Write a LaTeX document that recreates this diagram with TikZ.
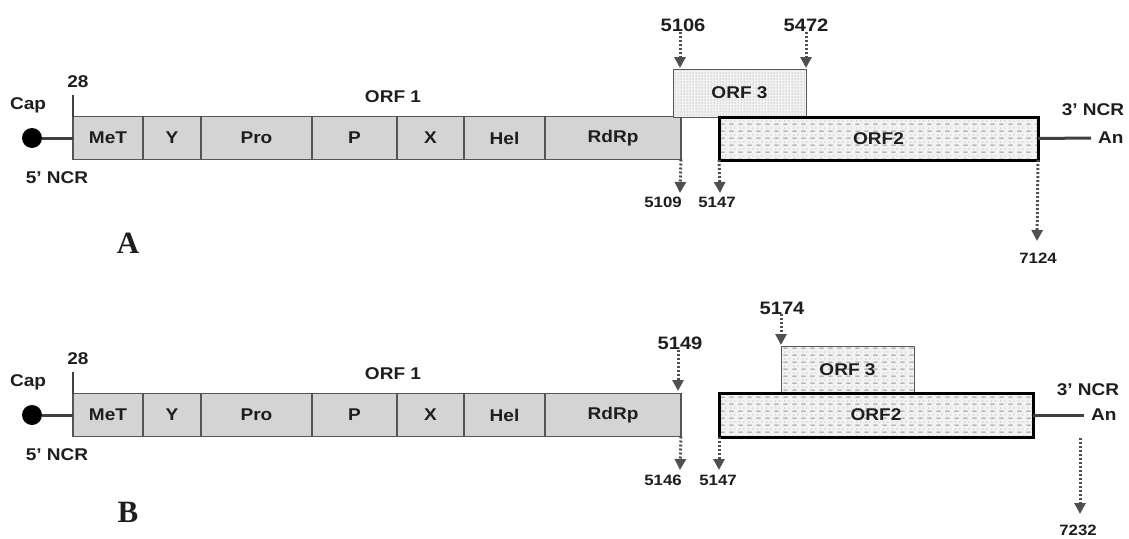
\documentclass[tikz,border=0pt]{standalone}
\usepackage{fontspec}
\setmainfont{Liberation Sans}[FakeStretch=1.12]
\newfontfamily\panelfont{Liberation Serif}
\usetikzlibrary{arrows.meta,patterns,patterns.meta}
\pgfdeclarepattern{
  name=dashrow,
  parameters={},
  bottom left={\pgfpoint{0pt}{0pt}},
  top right={\pgfpoint{9pt}{7pt}},
  tile size={\pgfpoint{9pt}{7pt}},
  code={
    \pgfsetlinewidth{1pt}
    \pgfpathmoveto{\pgfpoint{0.5pt}{1pt}}
    \pgfpathlineto{\pgfpoint{5pt}{1pt}}
    \pgfusepath{stroke}
    \pgfpathcircle{\pgfpoint{2pt}{4.5pt}}{0.6pt}
    \pgfpathcircle{\pgfpoint{6.5pt}{4.5pt}}{0.6pt}
    \pgfusepath{fill}
  }
}
\definecolor{segfill}{HTML}{D4D4D4}
\definecolor{segdraw}{HTML}{555555}
\definecolor{txt}{HTML}{1E1E1E}
\definecolor{arrc}{HTML}{505050}
\definecolor{linec}{HTML}{404040}
\definecolor{orfbg}{HTML}{F2F2F2}
\tikzset{
  lab/.style={font=\bfseries\fontsize{17}{17}\selectfont, text=txt, inner sep=0pt},
  bignum/.style={font=\bfseries\fontsize{18}{18}\selectfont, text=txt, inner sep=0pt},
  smallnum/.style={font=\bfseries\fontsize{15}{15}\selectfont, text=txt, inner sep=0pt},
  seg/.style={lab, draw=segdraw, line width=1.5pt, fill=segfill, minimum height=43pt, inner sep=0pt, outer sep=0pt, anchor=north west},
  orfthree/.style={lab, draw=gray!70!black, line width=1pt, preaction={fill=orfbg}, pattern=dots, pattern color=gray!90, inner sep=0pt, outer sep=0pt, anchor=north west},
  orfthreeb/.style={lab, draw=gray!70!black, line width=1pt, preaction={fill=orfbg}, pattern=dashrow, pattern color=gray!85, inner sep=0pt, outer sep=0pt, anchor=north west},
  orftwo/.style={lab, draw=black, line width=3pt, preaction={fill=orfbg}, pattern=dashrow, pattern color=gray!85, inner sep=0pt, outer sep=0pt, anchor=north west, minimum height=43pt},
  capdot/.style={circle, fill=black, minimum size=20pt, inner sep=0pt, outer sep=0pt},
  capline/.style={draw=linec, line width=3pt},
  tickline/.style={draw=linec, line width=1.8pt},
  arr/.style={draw=arrc, line width=3pt, dash pattern=on 2pt off 2pt, -{Triangle[width=11pt,length=11pt]}},
  panel/.style={font=\panelfont\bfseries\fontsize{31}{31}\selectfont, text=txt, inner sep=0pt}
}
\begin{document}
\begin{tikzpicture}[x=1pt,y=-1pt]
\useasboundingbox (0,0) rectangle (1129,538);
% common ORF1 part of both genomes
\foreach \p/\yc in {A/138,B/415}{
  \node[seg, minimum width=70pt] (\p-met) at (73,\yc-21.5) {MeT};
  \node[seg, minimum width=58pt] (\p-y) at (\p-met.north east) {Y};
  \node[seg, minimum width=111pt] (\p-pro) at (\p-y.north east) {Pro};
  \node[seg, minimum width=85pt] (\p-pp) at (\p-pro.north east) {P};
  \node[seg, minimum width=67pt] (\p-x) at (\p-pp.north east) {X};
  \node[seg, minimum width=81pt] (\p-hel) at (\p-x.north east) {Hel};
  \node[seg, minimum width=136pt] (\p-rdrp) at (\p-hel.north east) {RdRp};
  \node[capdot] (\p-cap) at (32,\yc) {};
  \draw[capline] (\p-cap) -- (\p-met.west);
  \node[lab] (\p-caplab) at (28,\yc-33) {Cap};
  \node[lab] (\p-ncrfive) at (57,\yc+40) {5' NCR};
  \node[lab] (\p-n28) at (78,\yc-56) {28};
  \coordinate (\p-ticktop) at ([yshift=22pt]\p-met.north west);
  \draw[tickline] (\p-met.north west) -- (\p-ticktop);
  \node[lab] (\p-orfone) at (393,\yc-41) {ORF 1};
}
% ---------- panel A ----------
\node[orfthree, minimum width=133pt, minimum height=48pt] (A-orf3) at (673,69) {ORF 3};
\node[orftwo, minimum width=319pt] (A-orf2) at (719,117) {ORF2};
\node[lab, anchor=west] (A-an) at (1098,138) {An};
\coordinate (A-anend) at (1091,138);
\draw[capline] (A-orf2.east) -- (A-anend);
\node[lab] (A-ncrthree) at (1093,110) {3' NCR};
\node[bignum] (A-l5106) at (683,25) {5106};
\node[bignum] (A-l5472) at (806,25) {5472};
\coordinate (A-t5106) at (680,68);
\coordinate (A-t5472) at (806,68);
\draw[arr] (A-l5106.south -| A-t5106) -- (A-t5106);
\draw[arr] (A-l5472.south -| A-t5472) -- (A-t5472);
\node[smallnum] (A-l5109) at (663,202) {5109};
\node[smallnum] (A-l5147) at (717,202) {5147};
\node[smallnum] (A-l7124) at (1038,258) {7124};
\coordinate (A-e5109) at (680,193);
\coordinate (A-e5147) at (720,193);
\coordinate (A-e7124) at (1037,241);
\draw[arr] (A-rdrp.south east) -- (A-e5109);
\draw[arr] (A-orf2.south west) -- (A-e5147);
\draw[arr] (A-orf2.south east) -- (A-e7124);
\node[panel] (A-panel) at (128,243) {A};
% ---------- panel B ----------
\node[orfthreeb, minimum width=133pt, minimum height=47pt] (B-orf3) at (781,346) {ORF 3};
\node[orftwo, minimum width=314pt, minimum height=44pt] (B-orf2) at (719,393) {ORF2};
\node[lab, anchor=west] (B-an) at (1091,415) {An};
\coordinate (B-anend) at (1084,415);
\draw[capline] (B-orf2.east) -- (B-anend);
\node[lab] (B-ncrthree) at (1088,390) {3' NCR};
\node[bignum] (B-l5149) at (680,343) {5149};
\node[bignum] (B-l5174) at (782,308) {5174};
\coordinate (B-t5149) at (678,391);
\coordinate (B-t5174) at (781,345);
\draw[arr] (B-l5149.south -| B-t5149) -- (B-t5149);
\draw[arr] (B-l5174.south -| B-t5174) -- (B-t5174);
\node[smallnum] (B-l5146) at (663,480) {5146};
\node[smallnum] (B-l5147) at (718,480) {5147};
\node[smallnum] (B-l7232) at (1078,530) {7232};
\coordinate (B-e5146) at (680,470);
\coordinate (B-e5147) at (719,470);
\coordinate (B-s7232) at (1080,438);
\coordinate (B-e7232) at (1080,514);
\draw[arr] (B-rdrp.south east) -- (B-e5146);
\draw[arr] (B-orf2.south west) -- (B-e5147);
\draw[arr] (B-s7232) -- (B-e7232);
\node[panel] (B-panel) at (128,512) {B};
\end{tikzpicture}
\end{document}
